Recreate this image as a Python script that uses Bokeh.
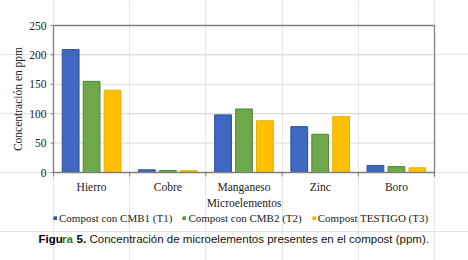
from bokeh.plotting import figure
from bokeh.models import ColumnDataSource, Legend, LegendItem, Label
from bokeh.transform import dodge
from bokeh.embed import file_html
from bokeh.resources import INLINE

categories = ["Hierro", "Cobre", "Manganeso", "Zinc", "Boro"]
series_names = ["Compost con CMB1 (T1)", "Compost con CMB2 (T2)", "Compost TESTIGO (T3)"]
t1 = [209, 4.5, 98, 78, 12]
t2 = [155, 3.5, 108, 65, 10]
t3 = [140, 3, 88, 95, 8]
y_ticks = [0, 50, 100, 150, 200, 250]
x_title = "Microelementos"
y_title = "Concentración en ppm"

fills = ["#3F68C2", "#6EA84A", "#FFC000"]
lines = ["#2B4C9B", "#4F8730", "#E8AE00"]
AXIS = "#7f7f7f"
GRID = "#d8dbe4"
SERIF = "Liberation Serif"
SANS = "Liberation Sans"

W, H = 468, 260
# plot area in canvas pixels
L, R, T, B = 53, 434, 25, 172
n = len(categories)
ymax = y_ticks[-1]
XPX = (R - L) / n          # pixels per category
YPX = (B - T) / ymax       # pixels per ppm

x_range = (-L / XPX, n + (W - R) / XPX)
y_range = (-(H - B) / YPX, ymax + T / YPX)

pos = [i + 0.5 for i in range(n)]
bounds = list(range(n + 1))
src = ColumnDataSource(dict(pos=pos, cat=categories, t1=t1, t2=t2, t3=t3))

p = figure(width=W, height=H, x_range=x_range, y_range=y_range,
           x_axis_location=None, y_axis_location=None,
           output_backend="svg", toolbar_location=None, min_border=0)
p.outline_line_color = None
p.background_fill_color = "white"
p.border_fill_color = "white"

# gridlines
inner = y_ticks[1:-1]
p.segment(x0=[0] * len(inner), x1=[n] * len(inner), y0=inner, y1=inner,
          line_color=GRID, line_width=1)

renderers = []
for key, off, fc, lc in zip(["t1", "t2", "t3"], [-0.275, 0.0, 0.275], fills, lines):
    r = p.vbar(x=dodge("pos", off, range=p.x_range), top=key, width=0.22, bottom=0,
               source=src, fill_color=fc, line_color=lc, line_width=1)
    renderers.append(r)

# frame / axes lines
tick_x = 3 / XPX
tick_y = 4 / YPX
p.segment(x0=[0, n, 0, 0], x1=[0, n, n, n], y0=[0, -tick_y, ymax, 0],
          y1=[ymax, ymax, ymax, 0], line_color=AXIS, line_width=1.3)
p.segment(x0=[-tick_x] * len(y_ticks), x1=[0] * len(y_ticks), y0=y_ticks, y1=y_ticks,
          line_color=AXIS, line_width=1)
p.segment(x0=bounds, x1=bounds, y0=[0] * len(bounds), y1=[-tick_y] * len(bounds),
          line_color=AXIS, line_width=1)

# tick labels
p.text(x=[0] * len(y_ticks), y=y_ticks, text=[str(t) for t in y_ticks], x_offset=-7,
       text_align="right", text_baseline="middle", text_font={"value": SERIF},
       text_font_size="11.5px", text_color="#222222")
p.text(x="pos", y=0, text="cat", source=src, y_offset=14,
       text_align="center", text_baseline="middle", text_font={"value": SERIF},
       text_font_size="11.5px", text_color="#222222")
p.text(x=[n / 2], y=[0], text=[x_title], y_offset=30,
       text_align="center", text_baseline="middle", text_font={"value": SERIF},
       text_font_size="11.5px", text_color="#222222")
p.add_layout(Label(x=17, y=H - 98.5, x_units="screen", y_units="screen", text=y_title,
                   angle=90, angle_units="deg", text_align="center", text_baseline="middle",
                   text_font=SERIF, text_font_size="11.5px", text_color="#222222"))

legend = Legend(items=[LegendItem(label=s, renderers=[r]) for s, r in zip(series_names, renderers)],
                location=(L, H - 224), orientation="horizontal",
                glyph_width=4, glyph_height=4, label_standoff=2, spacing=10,
                padding=0, margin=0, label_height=12,
                label_text_font=SERIF, label_text_font_size="11px", label_text_color="#222222",
                border_line_color=None, background_fill_alpha=0)
p.add_layout(legend, "center")

cap_y = H - 238
pieces = [("Figu", 38, "#000000"), ("ra", 61.6, "#2E7D1E"), ("5.", 76, "#000000")]
for txt, xx, col in pieces:
    p.add_layout(Label(x=xx, y=cap_y, x_units="screen", y_units="screen", text=txt,
                       text_font=SANS, text_font_style="bold", text_font_size="11.5px",
                       text_color=col, text_baseline="middle"))
p.add_layout(Label(x=89, y=cap_y, x_units="screen", y_units="screen",
                   text="Concentración de microelementos presentes en el compost (ppm).",
                   text_font=SANS, text_font_size="11.5px",
                   text_color="#111111", text_baseline="middle"))

open("out.html", "w").write(file_html(p, INLINE))
